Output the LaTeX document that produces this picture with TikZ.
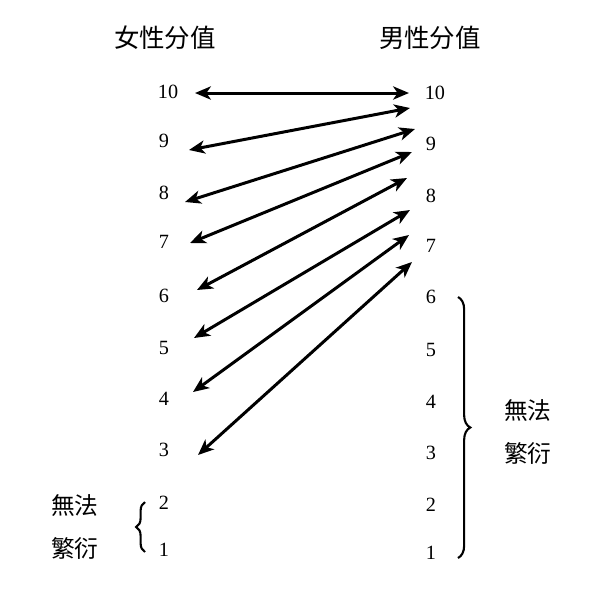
\documentclass[tikz,border=0pt]{standalone}
\usepackage{fontspec}
\setmainfont{Liberation Serif}
\newfontfamily\cjk{Noto Sans CJK SC}
\usetikzlibrary{arrows.meta,graphs,decorations.pathreplacing}

\begin{document}
\begin{tikzpicture}[x=0.02cm,y=-0.02cm,
    >={Stealth[length=9pt,width=7.5pt,inset=2.5pt]},
    num/.style={font=\fontsize{11.5}{13}\selectfont, inner sep=1pt},
    head/.style={font=\cjk\fontsize{14.5}{17}\selectfont},
    lab/.style={font=\cjk\fontsize{13.5}{24}\selectfont, align=center},
    brc/.style={decorate, line width=1.2pt}]
      \useasboundingbox (0,0) rectangle (600,600);

      \node[head] (hw) at (165,38) {女性分值};
      \node[head] (hm) at (430,38) {男性分值};

      % women
      \node[num] (w10) at (168,92) {10};
      \node[num] (w9) at (164,141) {9};
      \node[num] (w8) at (164,193) {8};
      \node[num] (w7) at (164,242) {7};
      \node[num] (w6) at (164,296) {6};
      \node[num] (w5) at (164,348) {5};
      \node[num] (w4) at (164,399) {4};
      \node[num] (w3) at (164,450) {3};
      \node[num] (w2) at (164,503) {2};
      \node[num] (w1) at (164,550) {1};

      % men
      \node[num] (m10) at (435,93) {10};
      \node[num] (m9) at (431,144) {9};
      \node[num] (m8) at (431,196) {8};
      \node[num] (m7) at (431,246) {7};
      \node[num] (m6) at (431,297) {6};
      \node[num] (m5) at (431,350) {5};
      \node[num] (m4) at (431,402) {4};
      \node[num] (m3) at (431,453) {3};
      \node[num] (m2) at (431,505) {2};
      \node[num] (m1) at (431,553) {1};

      % arrow ends
      \coordinate (wa1) at (195,93);
      \coordinate (wa2) at (189,150);
      \coordinate (wa3) at (185,202);
      \coordinate (wa4) at (190,243);
      \coordinate (wa5) at (197,290);
      \coordinate (wa6) at (194,338);
      \coordinate (wa7) at (193,392);
      \coordinate (wa8) at (198,455);

      \coordinate (ma1) at (409,93);
      \coordinate (ma2) at (410,108);
      \coordinate (ma3) at (415,129);
      \coordinate (ma4) at (412,152);
      \coordinate (ma5) at (407,178);
      \coordinate (ma6) at (410,210);
      \coordinate (ma7) at (409,235);
      \coordinate (ma8) at (412,262);

      \graph[use existing nodes, edges={line width=1.7pt}] {
        wa1 <-> ma1;
        wa2 <-> ma2;
        wa3 <-> ma3;
        wa4 <-> ma4;
        wa5 <-> ma5;
        wa6 <-> ma6;
        wa7 <-> ma7;
        wa8 <-> ma8;
      };

      \draw[brc, decoration={brace, amplitude=5pt}] (145,552) -- (145,502);
      \draw[brc, decoration={brace, amplitude=7pt}] (458,297) -- (458,558);

      \node[lab] (lw) at (75,527) {無法\\繁衍};
      \node[lab] (lm) at (528,432) {無法\\繁衍};
  \end{tikzpicture}
\end{document}
